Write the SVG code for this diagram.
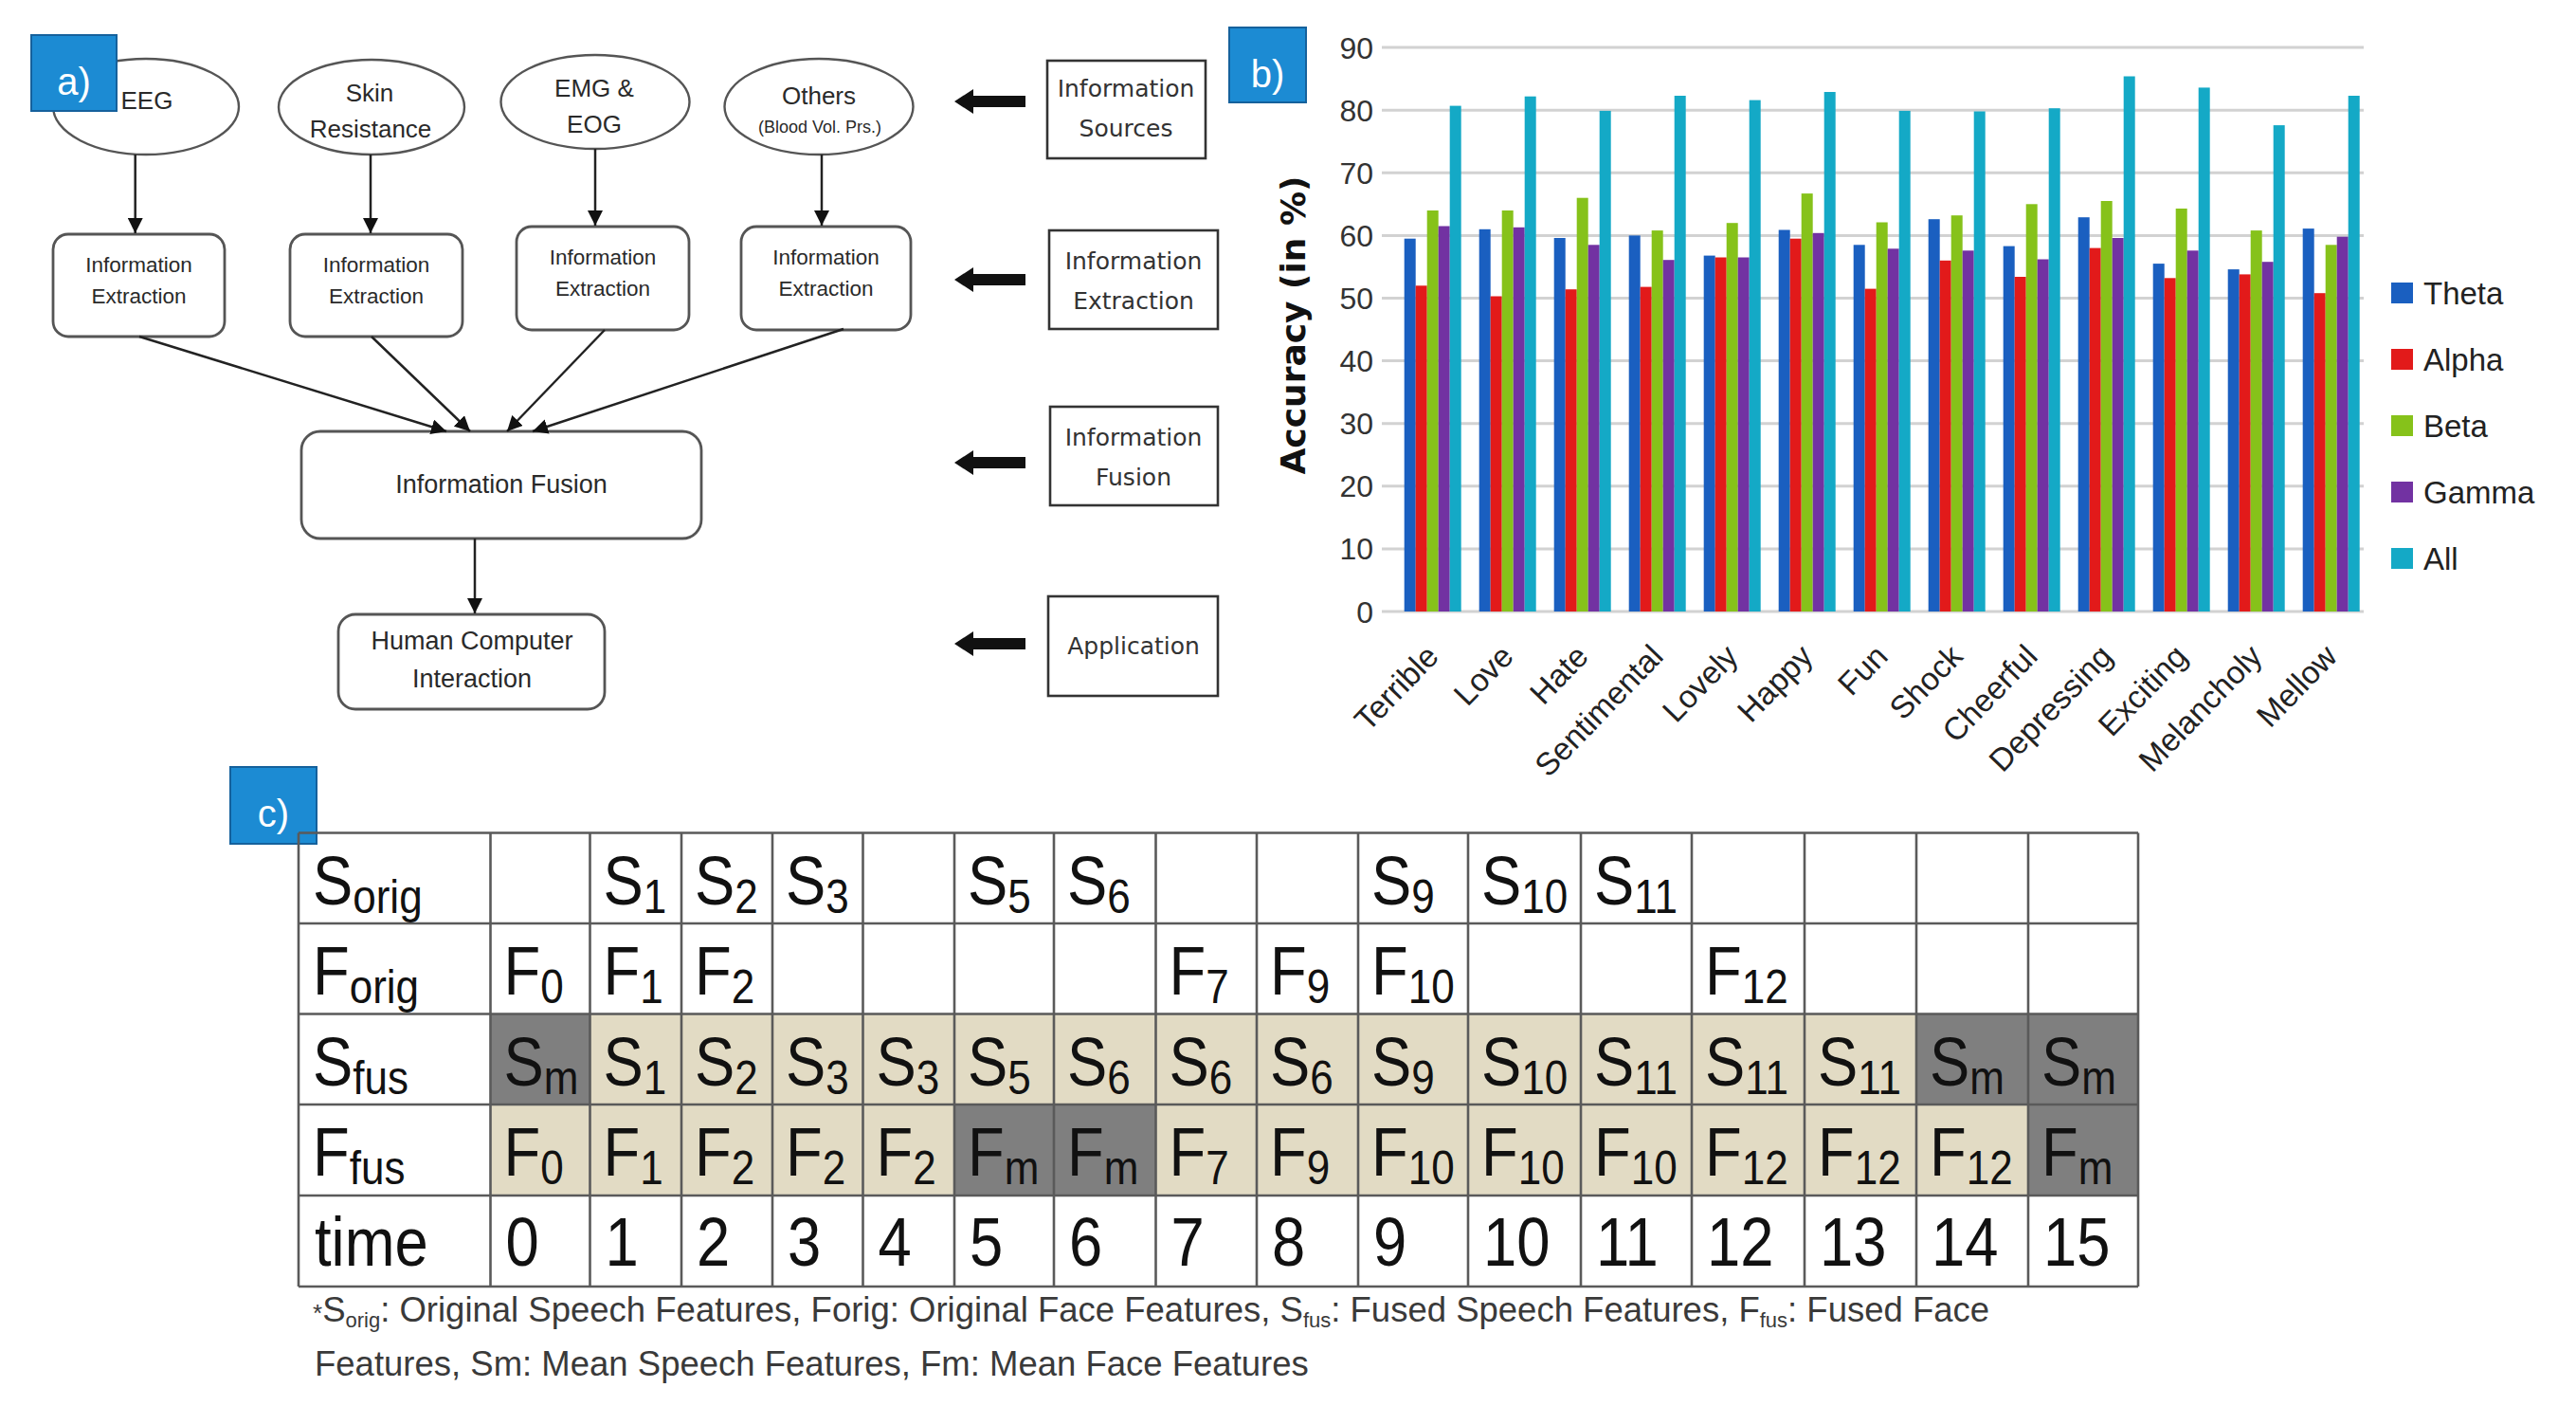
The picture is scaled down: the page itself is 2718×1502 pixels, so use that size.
<svg xmlns="http://www.w3.org/2000/svg" width="2718" height="1502" viewBox="0 0 2718 1502">
<style>
.bg{fill:#ffffff}
.ell{fill:#ffffff;stroke:#555;stroke-width:2.4}
.rb{fill:#ffffff;stroke:#555;stroke-width:2.8}
.sq{fill:#ffffff;stroke:#333;stroke-width:2.6}
.tag{fill:#1c8bd3;stroke:#15619c;stroke-width:2}
.tagt{font-family:"Liberation Sans",Arial,sans-serif;font-size:40px;fill:#ffffff;text-anchor:middle}
.nt{font-family:"Liberation Sans",Arial,sans-serif;font-size:26px;fill:#2a2a2a;text-anchor:middle}
.ns{font-family:"Liberation Sans",Arial,sans-serif;font-size:22.5px;fill:#2a2a2a;text-anchor:middle}
.nf{font-family:"Liberation Sans",Arial,sans-serif;font-size:27px;fill:#2a2a2a;text-anchor:middle}
.rt{font-family:"DejaVu Sans",Verdana,sans-serif;font-size:25px;fill:#333;text-anchor:middle}
.grid{stroke:#d2d2d2;stroke-width:3}
.yl{font-family:"Liberation Sans",Arial,sans-serif;font-size:32px;fill:#333;text-anchor:end}
.xl{font-family:"Liberation Sans",Arial,sans-serif;font-size:33.5px;fill:#222;text-anchor:end}
.lg{font-family:"Liberation Sans",Arial,sans-serif;font-size:33px;fill:#222}
.th{fill:#1a5fc0}.al{fill:#e21a1a}.be{fill:#86c21a}.ga{fill:#7232a2}.all{fill:#14a9c6}
.tl{stroke:#5a5a5a;stroke-width:2.6;fill:none}
.beige{fill:#e2dbc4}
.dark{fill:#7f7f7f}
.tt{font-family:"Liberation Sans",Arial,sans-serif;font-size:72px;fill:#111}
.sb{font-size:50px}
.fn{font-family:"Liberation Sans",Arial,sans-serif;font-size:36.5px;fill:#3a3a3a}
.fs{font-size:22px}
</style>
<defs>
<marker id="ah" viewBox="0 0 10 10" refX="10" refY="5" markerUnits="userSpaceOnUse" markerWidth="16" markerHeight="16" orient="auto">
<path d="M0,0 L10,5 L0,10 z" fill="#111"/>
</marker>
</defs>
<rect class="bg" x="0" y="0" width="2718" height="1502"/>

<!-- Panel a -->
<g id="node-eeg"><ellipse class="ell" cx="154" cy="112.5" rx="98" ry="50.5"/><text class="nt" x="155" y="115">EEG</text></g>
<g id="node-skin"><ellipse class="ell" cx="392" cy="113" rx="98" ry="50"/><text class="nt" x="390" y="107">Skin</text><text class="nt" x="391" y="145">Resistance</text></g>
<g id="node-emg"><ellipse class="ell" cx="628" cy="107.5" rx="99.5" ry="49.5"/><text class="nt" x="627" y="102">EMG &amp;</text><text class="nt" x="627" y="140">EOG</text></g>
<g id="node-others"><ellipse class="ell" cx="864" cy="112.5" rx="99.5" ry="50.5"/><text class="nt" x="864" y="110">Others</text><text class="nt" x="865" y="140" style="font-size:18px">(Blood Vol. Prs.)</text></g>
<g id="label-a"><rect class="tag" x="33" y="37" width="90" height="80"/><text class="tagt" x="78" y="100">a)</text></g>
<g id="node-ie1"><rect class="rb" x="56" y="247" width="181" height="108" rx="16"/><text class="ns" x="146.5" y="287">Information</text><text class="ns" x="146.5" y="320">Extraction</text></g>
<g id="node-ie2"><rect class="rb" x="306" y="247" width="182" height="108" rx="16"/><text class="ns" x="397" y="287">Information</text><text class="ns" x="397" y="320">Extraction</text></g>
<g id="node-ie3"><rect class="rb" x="545" y="239" width="182" height="109" rx="16"/><text class="ns" x="636" y="279">Information</text><text class="ns" x="636" y="312">Extraction</text></g>
<g id="node-ie4"><rect class="rb" x="782" y="239" width="179" height="109" rx="16"/><text class="ns" x="871.5" y="279">Information</text><text class="ns" x="871.5" y="312">Extraction</text></g>
<g id="node-fusion"><rect class="rb" x="318" y="455" width="422" height="113" rx="20"/><text class="nf" x="529" y="520">Information Fusion</text></g>
<g id="node-hci"><rect class="rb" x="357" y="648" width="281" height="100" rx="18"/><text class="nf" x="498" y="685">Human Computer</text><text class="nf" x="498" y="725">Interaction</text></g>

<g id="node-src"><rect class="sq" x="1105" y="64" width="167" height="103"/><text class="rt" x="1188" y="102">Information</text><text class="rt" x="1188" y="144">Sources</text></g>
<g id="node-ext"><rect class="sq" x="1107" y="243" width="178" height="104"/><text class="rt" x="1196" y="284">Information</text><text class="rt" x="1196" y="326">Extraction</text></g>
<g id="node-fus"><rect class="sq" x="1108" y="429" width="177" height="104"/><text class="rt" x="1196" y="470">Information</text><text class="rt" x="1196" y="512">Fusion</text></g>
<g id="node-app"><rect class="sq" x="1106" y="629" width="179" height="105"/><text class="rt" x="1196" y="690">Application</text></g>

<g id="connectors">
<g stroke="#222" stroke-width="2.5" fill="none">
<path d="M142.7,163 V246" marker-end="url(#ah)"/>
<path d="M391,163 V246" marker-end="url(#ah)"/>
<path d="M628,157 V238" marker-end="url(#ah)"/>
<path d="M867,163 V238" marker-end="url(#ah)"/>
<path d="M147,355 L471,455" marker-end="url(#ah)"/>
<path d="M392,355 L496,455" marker-end="url(#ah)"/>
<path d="M638,348 L535,455" marker-end="url(#ah)"/>
<path d="M890,347 L562,455" marker-end="url(#ah)"/>
<path d="M501,568 V647" marker-end="url(#ah)"/>
</g>
<g fill="#111">
<polygon points="1007,107 1027,94 1027,101 1082,101 1082,113 1027,113 1027,120"/>
<polygon points="1007,295 1027,282 1027,289 1082,289 1082,301 1027,301 1027,308"/>
<polygon points="1007,488 1027,475 1027,482 1082,482 1082,494 1027,494 1027,501"/>
<polygon points="1007,679 1027,666 1027,673 1082,673 1082,685 1027,685 1027,692"/>
</g>
</g>

<!-- Panel b -->
<g id="label-b"><rect class="tag" x="1297" y="29" width="81" height="79"/><text class="tagt" x="1337.5" y="92">b)</text></g>
<g id="grid">
<line class="grid" x1="1458" y1="645" x2="2494" y2="645"/>
<line class="grid" x1="1458" y1="578.9" x2="2494" y2="578.9"/>
<line class="grid" x1="1458" y1="512.8" x2="2494" y2="512.8"/>
<line class="grid" x1="1458" y1="446.7" x2="2494" y2="446.7"/>
<line class="grid" x1="1458" y1="380.6" x2="2494" y2="380.6"/>
<line class="grid" x1="1458" y1="314.5" x2="2494" y2="314.5"/>
<line class="grid" x1="1458" y1="248.4" x2="2494" y2="248.4"/>
<line class="grid" x1="1458" y1="182.3" x2="2494" y2="182.3"/>
<line class="grid" x1="1458" y1="116.2" x2="2494" y2="116.2"/>
<line class="grid" x1="1458" y1="50.1" x2="2494" y2="50.1"/>
</g>
<g id="yticks">
<text class="yl" x="1449" y="656.5">0</text>
<text class="yl" x="1449" y="590.4">10</text>
<text class="yl" x="1449" y="524.3">20</text>
<text class="yl" x="1449" y="458.2">30</text>
<text class="yl" x="1449" y="392.1">40</text>
<text class="yl" x="1449" y="326">50</text>
<text class="yl" x="1449" y="259.9">60</text>
<text class="yl" x="1449" y="193.8">70</text>
<text class="yl" x="1449" y="127.7">80</text>
<text class="yl" x="1449" y="61.6">90</text>
</g>
<text transform="translate(1377,343) rotate(-90)" style="font-family:'DejaVu Sans',Verdana,sans-serif;font-size:36px;font-weight:bold;fill:#111;text-anchor:middle">Accuracy (in %)</text>
<g id="bars">
<g transform="translate(1481.7,0)"><rect class="th" x="0" y="251.7" width="12" height="393.3"/><rect class="al" x="12" y="301.3" width="12" height="343.7"/><rect class="be" x="24" y="222" width="12" height="423"/><rect class="ga" x="36" y="238.5" width="12" height="406.5"/><rect class="all" x="48" y="111.6" width="12" height="533.4"/></g>
<g transform="translate(1560.7,0)"><rect class="th" x="0" y="241.8" width="12" height="403.2"/><rect class="al" x="12" y="312.5" width="12" height="332.5"/><rect class="be" x="24" y="222" width="12" height="423"/><rect class="ga" x="36" y="239.8" width="12" height="405.2"/><rect class="all" x="48" y="101.7" width="12" height="543.3"/></g>
<g transform="translate(1639.7,0)"><rect class="th" x="0" y="251" width="12" height="394"/><rect class="al" x="12" y="305.2" width="12" height="339.8"/><rect class="be" x="24" y="208.7" width="12" height="436.3"/><rect class="ga" x="36" y="258.3" width="12" height="386.7"/><rect class="all" x="48" y="116.9" width="12" height="528.1"/></g>
<g transform="translate(1718.7,0)"><rect class="th" x="0" y="248.4" width="12" height="396.6"/><rect class="al" x="12" y="302.6" width="12" height="342.4"/><rect class="be" x="24" y="243.1" width="12" height="401.9"/><rect class="ga" x="36" y="274.2" width="12" height="370.8"/><rect class="all" x="48" y="101" width="12" height="544"/></g>
<g transform="translate(1797.7,0)"><rect class="th" x="0" y="269.6" width="12" height="375.4"/><rect class="al" x="12" y="271.5" width="12" height="373.5"/><rect class="be" x="24" y="235.2" width="12" height="409.8"/><rect class="ga" x="36" y="271.5" width="12" height="373.5"/><rect class="all" x="48" y="105.6" width="12" height="539.4"/></g>
<g transform="translate(1876.7,0)"><rect class="th" x="0" y="242.5" width="12" height="402.5"/><rect class="al" x="12" y="251.7" width="12" height="393.3"/><rect class="be" x="24" y="204.1" width="12" height="440.9"/><rect class="ga" x="36" y="245.8" width="12" height="399.2"/><rect class="all" x="48" y="97" width="12" height="548"/></g>
<g transform="translate(1955.7,0)"><rect class="th" x="0" y="258.3" width="12" height="386.7"/><rect class="al" x="12" y="304.6" width="12" height="340.4"/><rect class="be" x="24" y="234.5" width="12" height="410.5"/><rect class="ga" x="36" y="262.3" width="12" height="382.7"/><rect class="all" x="48" y="116.9" width="12" height="528.1"/></g>
<g transform="translate(2034.7,0)"><rect class="th" x="0" y="231.2" width="12" height="413.8"/><rect class="al" x="12" y="274.8" width="12" height="370.2"/><rect class="be" x="24" y="227.2" width="12" height="417.8"/><rect class="ga" x="36" y="264.3" width="12" height="380.7"/><rect class="all" x="48" y="117.5" width="12" height="527.5"/></g>
<g transform="translate(2113.7,0)"><rect class="th" x="0" y="259.6" width="12" height="385.4"/><rect class="al" x="12" y="292" width="12" height="353"/><rect class="be" x="24" y="215.3" width="12" height="429.7"/><rect class="ga" x="36" y="273.5" width="12" height="371.5"/><rect class="all" x="48" y="114.2" width="12" height="530.8"/></g>
<g transform="translate(2192.7,0)"><rect class="th" x="0" y="229.2" width="12" height="415.8"/><rect class="al" x="12" y="261.6" width="12" height="383.4"/><rect class="be" x="24" y="212" width="12" height="433"/><rect class="ga" x="36" y="251" width="12" height="394"/><rect class="all" x="48" y="80.5" width="12" height="564.5"/></g>
<g transform="translate(2271.7,0)"><rect class="th" x="0" y="278.1" width="12" height="366.9"/><rect class="al" x="12" y="293.3" width="12" height="351.7"/><rect class="be" x="24" y="220" width="12" height="425"/><rect class="ga" x="36" y="264.3" width="12" height="380.7"/><rect class="all" x="48" y="92.4" width="12" height="552.6"/></g>
<g transform="translate(2350.7,0)"><rect class="th" x="0" y="284.1" width="12" height="360.9"/><rect class="al" x="12" y="289.4" width="12" height="355.6"/><rect class="be" x="24" y="243.1" width="12" height="401.9"/><rect class="ga" x="36" y="276.2" width="12" height="368.8"/><rect class="all" x="48" y="132.1" width="12" height="512.9"/></g>
<g transform="translate(2429.7,0)"><rect class="th" x="0" y="241.1" width="12" height="403.9"/><rect class="al" x="12" y="309.2" width="12" height="335.8"/><rect class="be" x="24" y="258.3" width="12" height="386.7"/><rect class="ga" x="36" y="249.7" width="12" height="395.3"/><rect class="all" x="48" y="101" width="12" height="544"/></g>
</g>
<g id="xlabels">
<text class="xl" transform="translate(1519.7,694) rotate(-46)">Terrible</text>
<text class="xl" transform="translate(1598.7,694) rotate(-46)">Love</text>
<text class="xl" transform="translate(1677.7,694) rotate(-46)">Hate</text>
<text class="xl" transform="translate(1756.7,694) rotate(-46)">Sentimental</text>
<text class="xl" transform="translate(1835.7,694) rotate(-46)">Lovely</text>
<text class="xl" transform="translate(1914.7,694) rotate(-46)">Happy</text>
<text class="xl" transform="translate(1993.7,694) rotate(-46)">Fun</text>
<text class="xl" transform="translate(2072.7,694) rotate(-46)">Shock</text>
<text class="xl" transform="translate(2151.7,694) rotate(-46)">Cheerful</text>
<text class="xl" transform="translate(2230.7,694) rotate(-46)">Depressing</text>
<text class="xl" transform="translate(2309.7,694) rotate(-46)">Exciting</text>
<text class="xl" transform="translate(2388.7,694) rotate(-46)">Melancholy</text>
<text class="xl" transform="translate(2467.7,694) rotate(-46)">Mellow</text>
</g>
<g id="legend">
<rect class="th" x="2523" y="298" width="23" height="22"/><text class="lg" x="2557" y="320.5">Theta</text>
<rect class="al" x="2523" y="368" width="23" height="22"/><text class="lg" x="2557" y="390.5">Alpha</text>
<rect class="be" x="2523" y="438" width="23" height="22"/><text class="lg" x="2557" y="460.5">Beta</text>
<rect class="ga" x="2523" y="508" width="23" height="22"/><text class="lg" x="2557" y="530.5">Gamma</text>
<rect class="all" x="2523" y="578" width="23" height="22"/><text class="lg" x="2557" y="600.5">All</text>
</g>

<!-- Panel c -->
<g id="label-c"><rect class="tag" x="243" y="809" width="91" height="81"/><text class="tagt" x="288.5" y="872">c)</text></g>
<g id="table-fill">
<rect class="dark" x="517.5" y="1069.5" width="105" height="95.5"/>
<rect class="beige" x="622.5" y="1069.5" width="1399.5" height="95.5"/>
<rect class="dark" x="2022" y="1069.5" width="234" height="95.5"/>
<rect class="beige" x="517.5" y="1165" width="489.5" height="96"/>
<rect class="dark" x="1007" y="1165" width="212.5" height="96"/>
<rect class="beige" x="1219.5" y="1165" width="920.5" height="96"/>
<rect class="dark" x="2140" y="1165" width="116" height="96"/>
</g>
<g id="table-lines" class="tl">
<path d="M315,878.5 H2256 M315,974 H2256 M315,1069.5 H2256 M315,1165 H2256 M315,1261 H2256 M315,1357 H2256"/>
<path d="M315,878.5 V1357 M517.5,878.5 V1357 M622.5,878.5 V1357 M719,878.5 V1357 M815,878.5 V1357 M910.5,878.5 V1357 M1007,878.5 V1357 M1112,878.5 V1357 M1219.5,878.5 V1357 M1326,878.5 V1357 M1433,878.5 V1357 M1549,878.5 V1357 M1668,878.5 V1357 M1785,878.5 V1357 M1904,878.5 V1357 M2022,878.5 V1357 M2140,878.5 V1357 M2256,878.5 V1357"/>
</g>
<g id="table-text" class="tt">
<text transform="translate(330,953.5) scale(0.88,1)">S<tspan class="sb" dy="9">orig</tspan></text>
<text transform="translate(330,1049) scale(0.88,1)">F<tspan class="sb" dy="9">orig</tspan></text>
<text transform="translate(330,1144.5) scale(0.88,1)">S<tspan class="sb" dy="9">fus</tspan></text>
<text transform="translate(330,1240) scale(0.88,1)">F<tspan class="sb" dy="9">fus</tspan></text>
<text transform="translate(332,1335) scale(0.88,1)">time</text>

<text transform="translate(636.5,953.5) scale(0.88,1)">S<tspan class="sb" dy="9">1</tspan></text>
<text transform="translate(733,953.5) scale(0.88,1)">S<tspan class="sb" dy="9">2</tspan></text>
<text transform="translate(829,953.5) scale(0.88,1)">S<tspan class="sb" dy="9">3</tspan></text>
<text transform="translate(1021,953.5) scale(0.88,1)">S<tspan class="sb" dy="9">5</tspan></text>
<text transform="translate(1126,953.5) scale(0.88,1)">S<tspan class="sb" dy="9">6</tspan></text>
<text transform="translate(1447,953.5) scale(0.88,1)">S<tspan class="sb" dy="9">9</tspan></text>
<text transform="translate(1563,953.5) scale(0.88,1)">S<tspan class="sb" dy="9">10</tspan></text>
<text transform="translate(1682,953.5) scale(0.88,1)">S<tspan class="sb" dy="9">11</tspan></text>

<text transform="translate(531.5,1049) scale(0.88,1)">F<tspan class="sb" dy="9">0</tspan></text>
<text transform="translate(636.5,1049) scale(0.88,1)">F<tspan class="sb" dy="9">1</tspan></text>
<text transform="translate(733,1049) scale(0.88,1)">F<tspan class="sb" dy="9">2</tspan></text>
<text transform="translate(1233.5,1049) scale(0.88,1)">F<tspan class="sb" dy="9">7</tspan></text>
<text transform="translate(1340,1049) scale(0.88,1)">F<tspan class="sb" dy="9">9</tspan></text>
<text transform="translate(1447,1049) scale(0.88,1)">F<tspan class="sb" dy="9">10</tspan></text>
<text transform="translate(1799,1049) scale(0.88,1)">F<tspan class="sb" dy="9">12</tspan></text>

<text transform="translate(531.5,1144.5) scale(0.88,1)">S<tspan class="sb" dy="9">m</tspan></text>
<text transform="translate(636.5,1144.5) scale(0.88,1)">S<tspan class="sb" dy="9">1</tspan></text>
<text transform="translate(733,1144.5) scale(0.88,1)">S<tspan class="sb" dy="9">2</tspan></text>
<text transform="translate(829,1144.5) scale(0.88,1)">S<tspan class="sb" dy="9">3</tspan></text>
<text transform="translate(924.5,1144.5) scale(0.88,1)">S<tspan class="sb" dy="9">3</tspan></text>
<text transform="translate(1021,1144.5) scale(0.88,1)">S<tspan class="sb" dy="9">5</tspan></text>
<text transform="translate(1126,1144.5) scale(0.88,1)">S<tspan class="sb" dy="9">6</tspan></text>
<text transform="translate(1233.5,1144.5) scale(0.88,1)">S<tspan class="sb" dy="9">6</tspan></text>
<text transform="translate(1340,1144.5) scale(0.88,1)">S<tspan class="sb" dy="9">6</tspan></text>
<text transform="translate(1447,1144.5) scale(0.88,1)">S<tspan class="sb" dy="9">9</tspan></text>
<text transform="translate(1563,1144.5) scale(0.88,1)">S<tspan class="sb" dy="9">10</tspan></text>
<text transform="translate(1682,1144.5) scale(0.88,1)">S<tspan class="sb" dy="9">11</tspan></text>
<text transform="translate(1799,1144.5) scale(0.88,1)">S<tspan class="sb" dy="9">11</tspan></text>
<text transform="translate(1918,1144.5) scale(0.88,1)">S<tspan class="sb" dy="9">11</tspan></text>
<text transform="translate(2036,1144.5) scale(0.88,1)">S<tspan class="sb" dy="9">m</tspan></text>
<text transform="translate(2154,1144.5) scale(0.88,1)">S<tspan class="sb" dy="9">m</tspan></text>

<text transform="translate(531.5,1240) scale(0.88,1)">F<tspan class="sb" dy="9">0</tspan></text>
<text transform="translate(636.5,1240) scale(0.88,1)">F<tspan class="sb" dy="9">1</tspan></text>
<text transform="translate(733,1240) scale(0.88,1)">F<tspan class="sb" dy="9">2</tspan></text>
<text transform="translate(829,1240) scale(0.88,1)">F<tspan class="sb" dy="9">2</tspan></text>
<text transform="translate(924.5,1240) scale(0.88,1)">F<tspan class="sb" dy="9">2</tspan></text>
<text transform="translate(1021,1240) scale(0.88,1)">F<tspan class="sb" dy="9">m</tspan></text>
<text transform="translate(1126,1240) scale(0.88,1)">F<tspan class="sb" dy="9">m</tspan></text>
<text transform="translate(1233.5,1240) scale(0.88,1)">F<tspan class="sb" dy="9">7</tspan></text>
<text transform="translate(1340,1240) scale(0.88,1)">F<tspan class="sb" dy="9">9</tspan></text>
<text transform="translate(1447,1240) scale(0.88,1)">F<tspan class="sb" dy="9">10</tspan></text>
<text transform="translate(1563,1240) scale(0.88,1)">F<tspan class="sb" dy="9">10</tspan></text>
<text transform="translate(1682,1240) scale(0.88,1)">F<tspan class="sb" dy="9">10</tspan></text>
<text transform="translate(1799,1240) scale(0.88,1)">F<tspan class="sb" dy="9">12</tspan></text>
<text transform="translate(1918,1240) scale(0.88,1)">F<tspan class="sb" dy="9">12</tspan></text>
<text transform="translate(2036,1240) scale(0.88,1)">F<tspan class="sb" dy="9">12</tspan></text>
<text transform="translate(2154,1240) scale(0.88,1)">F<tspan class="sb" dy="9">m</tspan></text>

<text transform="translate(533.5,1335) scale(0.88,1)">0</text>
<text transform="translate(638.5,1335) scale(0.88,1)">1</text>
<text transform="translate(735,1335) scale(0.88,1)">2</text>
<text transform="translate(831,1335) scale(0.88,1)">3</text>
<text transform="translate(926.5,1335) scale(0.88,1)">4</text>
<text transform="translate(1023,1335) scale(0.88,1)">5</text>
<text transform="translate(1128,1335) scale(0.88,1)">6</text>
<text transform="translate(1235.5,1335) scale(0.88,1)">7</text>
<text transform="translate(1342,1335) scale(0.88,1)">8</text>
<text transform="translate(1449,1335) scale(0.88,1)">9</text>
<text transform="translate(1565,1335) scale(0.88,1)">10</text>
<text transform="translate(1684,1335) scale(0.88,1)">11</text>
<text transform="translate(1801,1335) scale(0.88,1)">12</text>
<text transform="translate(1920,1335) scale(0.88,1)">13</text>
<text transform="translate(2038,1335) scale(0.88,1)">14</text>
<text transform="translate(2156,1335) scale(0.88,1)">15</text>
</g>
<g id="footnote" class="fn">
<text x="330" y="1394"><tspan style="font-size:26px">*</tspan>S<tspan class="fs" dy="6">orig</tspan><tspan dy="-6">: Original Speech Features, Forig: Original Face Features, S</tspan><tspan class="fs" dy="6">fus</tspan><tspan dy="-6">: Fused Speech Features, F</tspan><tspan class="fs" dy="6">fus</tspan><tspan dy="-6">: Fused Face</tspan></text>
<text x="332" y="1451">Features, Sm: Mean Speech Features, Fm: Mean Face Features</text>
</g>
</svg>
